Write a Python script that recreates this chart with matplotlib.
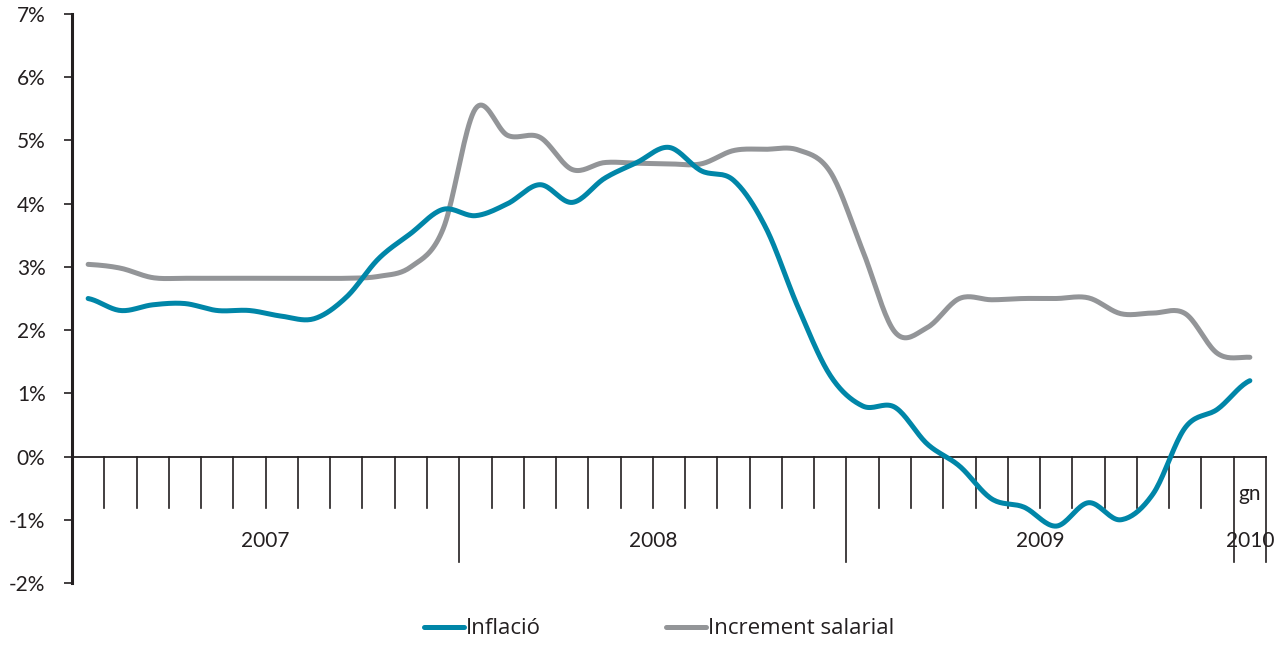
import numpy as np
import matplotlib
matplotlib.use("Agg")
import matplotlib.pyplot as plt
from matplotlib.lines import Line2D

# ---- data (monthly, Jan 2007 .. Jan 2010) ----
inflacio = [2.50, 2.31, 2.40, 2.42, 2.31, 2.31, 2.22, 2.18, 2.52, 3.13, 3.53, 3.91,
            3.81, 4.00, 4.30, 4.02, 4.40, 4.65, 4.89, 4.52, 4.37, 3.62, 2.36, 1.28,
            0.80, 0.78, 0.20, -0.15, -0.67, -0.80, -1.10, -0.73, -1.00, -0.59, 0.46, 0.75,
            1.20]
increment_salarial = [3.04, 2.98, 2.83, 2.82, 2.82, 2.82, 2.82, 2.82, 2.82, 2.85, 3.00, 3.60,
                      5.50, 5.08, 5.05, 4.54, 4.65, 4.64, 4.63, 4.63, 4.84, 4.86, 4.85, 4.50,
                      3.26, 1.97, 2.04, 2.50, 2.48, 2.50, 2.50, 2.51, 2.26, 2.27, 2.26, 1.63,
                      1.57]
years = ["2007", "2008", "2009", "2010"]
year_months = [12, 12, 12, 1]
month_label_last = "gn"
y_ticks = [-2, -1, 0, 1, 2, 3, 4, 5, 6, 7]
y_tick_labels = ["-2%", "-1%", "0%", "1%", "2%", "3%", "4%", "5%", "6%", "7%"]
series_names = ["Inflació", "Increment salarial"]

BLUE = "#0086A8"
GRAY = "#939598"
DARK = "#231f20"
FONT = ["Lato", "DejaVu Sans"]
FS = 15

plt.rcParams["font.family"] = FONT


def smooth(y, n=20):
    """Catmull-Rom style smoothing of the drawn line through the data points."""
    y = np.asarray(y, float)
    x = np.arange(len(y), dtype=float)
    xs, ys = [], []
    for i in range(len(y) - 1):
        p0 = y[i - 1] if i > 0 else y[i]
        p1, p2 = y[i], y[i + 1]
        p3 = y[i + 2] if i + 2 < len(y) else y[i + 1]
        t = np.linspace(0, 1, n, endpoint=False)
        c1 = p1 + (p2 - p0) / 6.0
        c2 = p2 - (p3 - p1) / 6.0
        b = ((1 - t) ** 3) * p1 + 3 * ((1 - t) ** 2) * t * c1 + 3 * (1 - t) * t ** 2 * c2 + t ** 3 * p2
        xs.append(x[i] + t)
        ys.append(b)
    xs.append([x[-1]])
    ys.append([y[-1]])
    return np.concatenate(xs), np.concatenate(ys)


W, H = 1287, 646
fig = plt.figure(figsize=(W / 100, H / 100), dpi=100)
ax = fig.add_axes([72 / W, (H - 583) / H, (1266 - 72) / W, (583 - 14) / H])

n = len(inflacio)
ax.set_xlim(-0.5, n - 0.5)
ax.set_ylim(-2, 7)

xs, ys = smooth(increment_salarial)
ax.plot(xs, ys, color=GRAY, lw=3.6, solid_capstyle="round", zorder=3)
xb, yb = smooth(inflacio)
ax.plot(xb, yb, color=BLUE, lw=3.6, solid_capstyle="round", zorder=4)

# spines
for s in ["top", "right", "bottom"]:
    ax.spines[s].set_visible(False)
ax.spines["left"].set_linewidth(2.2)
ax.spines["left"].set_color(DARK)
ax.set_yticks(y_ticks)
ax.set_yticklabels(y_tick_labels, fontsize=FS, color=DARK)
ax.tick_params(axis="y", direction="out", length=6, width=1.2, color=DARK, pad=13)
ax.set_xticks([])

# category axis at zero
ax.plot([-0.5, n - 0.5], [0, 0], color=DARK, lw=1.3, zorder=2, clip_on=False)
boundaries = np.cumsum(year_months) - 0.5
long_b = set(np.round(boundaries, 1).tolist())
for b in np.arange(0.5, n - 0.5 + 0.01, 1.0):
    is_long = round(b, 1) in long_b
    ax.plot([b, b], [0, -1.66 if is_long else -0.82], color=DARK,
            lw=1.2, zorder=2, clip_on=False)

# year labels
start = -0.5
for yr, m in zip(years, year_months):
    center = start + m / 2.0
    ax.text(center, -1.33, yr, ha="center", va="center", fontsize=FS, color=DARK)
    start += m
ax.text(n - 1, -0.59, month_label_last, ha="center", va="center", fontsize=FS, color=DARK)

# legend
handles = [Line2D([], [], color=BLUE, lw=3.6, solid_capstyle="round"),
           Line2D([], [], color=GRAY, lw=3.6, solid_capstyle="round")]
fig.legend(handles, series_names, loc="center", bbox_to_anchor=(659 / W, 1 - 629 / H),
           ncol=2, frameon=False, handlelength=1.8, handletextpad=0.1,
           columnspacing=5.6, labelcolor=DARK,
           prop={"family": ["Open Sans", "DejaVu Sans"], "size": 16})

fig.savefig("out.png", dpi=100)
